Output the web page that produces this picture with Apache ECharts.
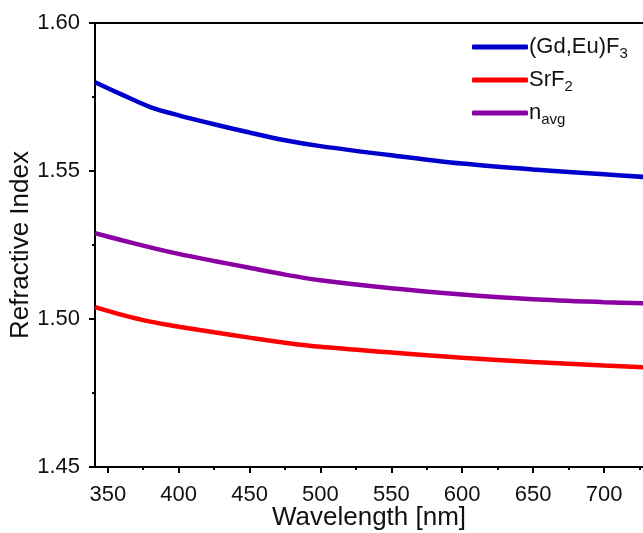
<!DOCTYPE html>
<html>
<head>
<meta charset="utf-8">
<script src="https://cdn.jsdelivr.net/npm/echarts@6/dist/echarts.min.js"></script>
<style>
  html, body { margin: 0; padding: 0; background: #fff; }
  #chart { width: 643px; height: 533px; }
</style>
</head>
<body>
<div id="chart"></div>
<script>
// wavelength (nm)
const wavelengths = [341, 360, 380, 400, 425, 450, 475, 500, 550, 600, 650, 700, 728];
// refractive index
const gdEuF3 = [1.5800, 1.5758, 1.5716, 1.5688, 1.5658, 1.5630, 1.5604, 1.5584, 1.5553, 1.5525, 1.5505, 1.5489, 1.5480];
const srF2   = [1.5040, 1.5014, 1.4991, 1.4974, 1.4955, 1.4937, 1.4920, 1.4906, 1.4887, 1.4869, 1.4855, 1.4843, 1.4837];
const nAvg   = [1.5290, 1.5266, 1.5242, 1.5220, 1.5196, 1.5173, 1.5150, 1.5131, 1.5104, 1.5083, 1.5067, 1.5057, 1.5053];

const xMajor = [350, 400, 450, 500, 550, 600, 650, 700];
const xMinor = [375, 425, 475, 525, 575, 625, 675, 725];

const font = 'Liberation Sans, Arial, sans-serif';
const chart = echarts.init(document.getElementById('chart'));

const pairs = arr => wavelengths.map((w, i) => [w, arr[i]]);

const mkSeries = (name, data, color) => ({
  name: name,
  type: 'line',
  data: pairs(data),
  smooth: 0.3,
  symbol: 'none',
  lineStyle: { color: color, width: 4.5 },
  itemStyle: { color: color }
});

chart.setOption({
  animation: false,
  grid: { left: 95, top: 23, right: 0, bottom: 66, containLabel: false, outerBoundsMode: 'none' },
  legend: {
    left: 467,
    top: 31,
    orient: 'vertical',
    icon: 'roundRect',
    itemWidth: 56,
    itemHeight: 5,
    itemGap: 8,
    textStyle: {
      fontFamily: font, fontSize: 22, color: '#111', padding: [0, 0, 0, -4],
      rich: { sub: { fontFamily: font, fontSize: 15, color: '#111', verticalAlign: 'bottom', padding: [13, 0, 0, 0] } }
    },
    formatter: function (name) {
      if (name === 'GdEuF3') return '(Gd,Eu)F{sub|3}';
      if (name === 'SrF2') return 'SrF{sub|2}';
      return 'n{sub|avg}';
    },
    data: ['GdEuF3', 'SrF2', 'navg']
  },
  xAxis: [
    {
      type: 'value',
      min: 341, max: 727.5,
      name: 'Wavelength [nm]',
      nameLocation: 'middle',
      nameGap: 38,
      nameMoveOverlap: false,
      nameTextStyle: { fontFamily: font, fontSize: 26, color: '#111' },
      axisLine: { lineStyle: { color: '#000', width: 2 } },
      axisTick: { show: true, length: 6, lineStyle: { color: '#000', width: 2 }, customValues: xMajor },
      axisLabel: { fontFamily: font, fontSize: 22, color: '#111', margin: 17, customValues: xMajor },
      splitLine: { show: false }
    },
    {
      type: 'value',
      min: 341, max: 727.5,
      position: 'bottom',
      axisLine: { show: false },
      axisTick: { show: true, length: 3, lineStyle: { color: '#000', width: 2 }, customValues: xMinor },
      axisLabel: { show: false },
      splitLine: { show: false }
    },
    {
      type: 'value',
      min: 341, max: 727.5,
      position: 'top',
      axisLine: { show: true, lineStyle: { color: '#000', width: 2 } },
      axisTick: { show: false },
      axisLabel: { show: false },
      splitLine: { show: false }
    }
  ],
  yAxis: {
    type: 'value',
    min: 1.45, max: 1.60, interval: 0.05,
    name: 'Refractive Index',
    nameLocation: 'middle',
    nameGap: 61,
    nameMoveOverlap: false,
    nameTextStyle: { fontFamily: font, fontSize: 26, color: '#111' },
    axisLine: { show: true, lineStyle: { color: '#000', width: 2 } },
    axisTick: { show: true, length: 6, lineStyle: { color: '#000', width: 2 } },
    minorTick: { show: true, splitNumber: 2, length: 3, lineStyle: { color: '#000', width: 2 } },
    axisLabel: { fontFamily: font, fontSize: 22, color: '#111', margin: 15, formatter: v => v.toFixed(2) },
    splitLine: { show: false }
  },
  series: [
    mkSeries('GdEuF3', gdEuF3, '#0000cd'),
    mkSeries('SrF2', srF2, '#ff0000'),
    mkSeries('navg', nAvg, '#8b00a3')
  ]
});
</script>
</body>
</html>
